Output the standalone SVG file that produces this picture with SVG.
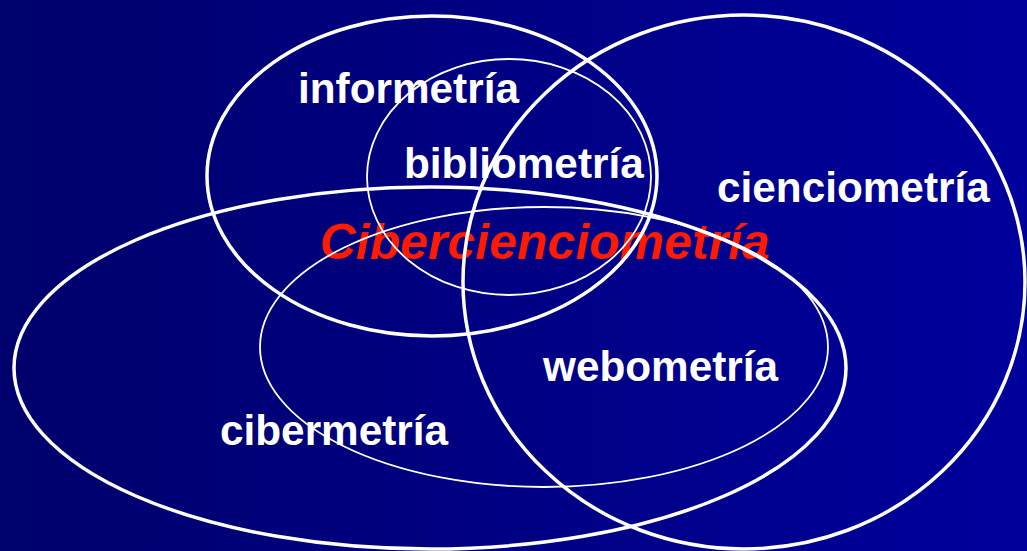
<svg xmlns="http://www.w3.org/2000/svg" width="1027" height="551" viewBox="0 0 1027 551">
  <defs>
    <linearGradient id="bg" x1="0" y1="0" x2="1" y2="0">
      <stop offset="0" stop-color="#00006C"/>
      <stop offset="1" stop-color="#00009C"/>
    </linearGradient>
  </defs>
  <style>
    .thick { fill: none; stroke: #FFFFFF; stroke-width: 3.5; }
    .thin { fill: none; stroke: #FFFFFF; stroke-width: 1.8; }
    .lbl { font-family: "Liberation Sans", Arial, sans-serif; font-weight: bold; font-size: 42.3px; fill: #FFFFFF; }
    .main { font-family: "Liberation Sans", Arial, sans-serif; font-weight: bold; font-style: italic; font-size: 50px; fill: #FF1A00; }
  </style>
  <rect x="0" y="0" width="1027" height="551" fill="url(#bg)"/>
  <text id="center-label" class="main" x="320" y="259">Cibercienciometría</text>
  <g id="informetria">
    <ellipse class="thick" cx="432" cy="176" rx="225" ry="160"/>
    <text class="lbl" x="298" y="103">informetría</text>
  </g>
  <g id="bibliometria">
    <ellipse class="thin" cx="509" cy="177" rx="142" ry="118"/>
    <text class="lbl" x="404" y="178">bibliometría</text>
  </g>
  <g id="cienciometria">
    <ellipse class="thick" cx="744" cy="282" rx="281" ry="267"/>
    <text class="lbl" x="717" y="202">cienciometría</text>
  </g>
  <g id="cibermetria">
    <ellipse class="thick" cx="430" cy="368" rx="416" ry="181"/>
    <text class="lbl" x="220" y="445">cibermetría</text>
  </g>
  <g id="webometria">
    <ellipse class="thin" cx="544" cy="347" rx="284" ry="140"/>
    <text class="lbl" x="543" y="381">webometría</text>
  </g>
  <g id="connectors"/>
</svg>
